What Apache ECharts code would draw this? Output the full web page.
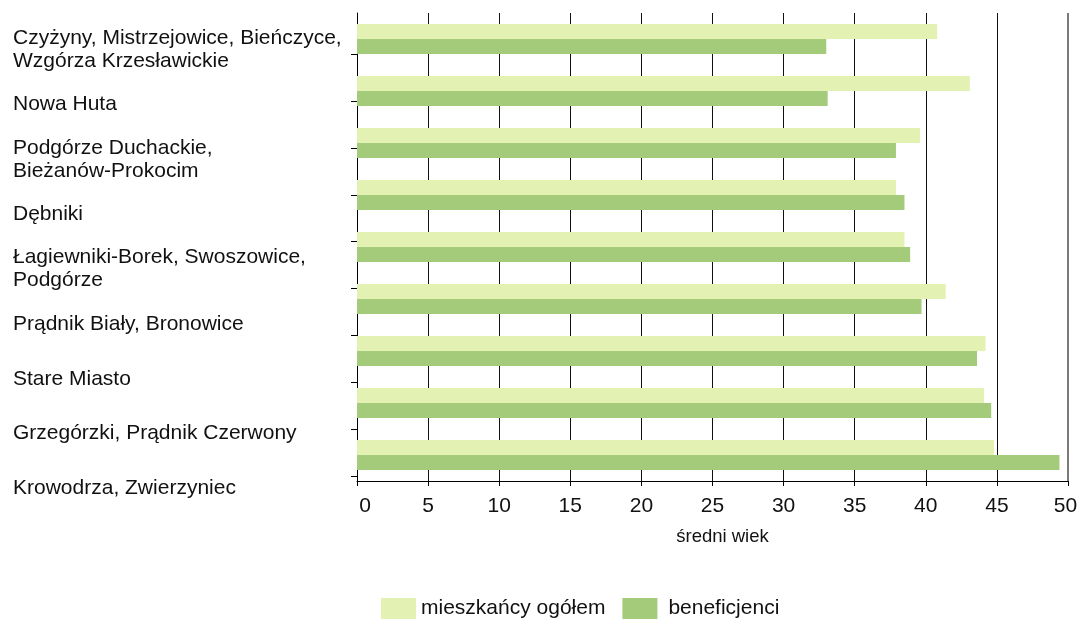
<!DOCTYPE html>
<html>
<head>
<meta charset="utf-8">
<script src="https://cdn.jsdelivr.net/npm/echarts@6/dist/echarts.min.js"></script>
<style>html,body{margin:0;padding:0;background:#fff;}#c{width:1077px;height:621px;}</style>
</head>
<body>
<div id="c"></div>
<script>
const categories = [
  "Czyżyny, Mistrzejowice, Bieńczyce,\nWzgórza Krzesławickie",
  "Nowa Huta",
  "Podgórze Duchackie,\nBieżanów-Prokocim",
  "Dębniki",
  "Łagiewniki-Borek, Swoszowice,\nPodgórze",
  "Prądnik Biały, Bronowice",
  "Stare Miasto",
  "Grzegórzki, Prądnik Czerwony",
  "Krowodrza, Zwierzyniec"
];
const seriesNames = ["mieszkańcy ogółem", "beneficjenci"];
const mieszkancy = [40.8, 43.1, 39.6, 37.9, 38.5, 41.4, 44.2, 44.1, 44.8];
const beneficjenci = [33.0, 33.1, 37.9, 38.5, 38.9, 39.7, 43.6, 44.6, 49.4];
const xTicks = { min: 0, max: 50, interval: 5 };
const axisName = "średni wiek";

const FONT = "Liberation Sans, Arial, sans-serif";
const chart = echarts.init(document.getElementById('c'), null, { renderer: 'canvas' });
chart.setOption({
  animation: false,
  backgroundColor: '#fff',
  textStyle: { fontFamily: FONT },
  grid: [
    { left: 357, right: 9, top: 13, bottom: 140, outerBoundsMode: 'none', containLabel: false },
    { left: 357, right: 9, top: 22, bottom: 105, outerBoundsMode: 'none', containLabel: false },
    { left: 357, right: 9, top: 54.3, bottom: 145, outerBoundsMode: 'none', containLabel: false }
  ],
  legend: {
    left: 381, top: 598, padding: 0,
    icon: 'rect',
    itemWidth: 35, itemHeight: 21, itemGap: 17,
    textStyle: { fontFamily: FONT, fontSize: 21, color: '#111' },
    data: [
      { name: seriesNames[0] },
      { name: seriesNames[1], textStyle: { padding: [0, 0, 0, 6] } }
    ]
  },
  xAxis: [
    {
      gridIndex: 0, type: 'value', min: xTicks.min, max: xTicks.max, interval: xTicks.interval,
      name: axisName, nameLocation: 'middle', nameGap: 46,
      nameTextStyle: { fontFamily: FONT, fontSize: 18.5, color: '#111', padding: [0, 0, 0, 20] },
      axisLine: { show: true, lineStyle: { color: '#000', width: 1 } },
      axisTick: { show: true, length: 5, lineStyle: { color: '#000' } },
      axisLabel: {
        fontFamily: FONT, fontSize: 21, color: '#111', margin: 15,
        formatter: function (v) {
          if (v === xTicks.min) return '{first|' + v + '}';
          if (v === xTicks.max) return '{last|' + v + '}';
          return String(v);
        },
        rich: {
          first: { fontFamily: FONT, fontSize: 21, color: '#111', padding: [0, 0, 0, 16] },
          last: { fontFamily: FONT, fontSize: 21, color: '#111', padding: [0, 5, 0, 0] }
        }
      },
      splitLine: { show: true, showMaxLine: false, lineStyle: { color: '#111', width: 1 } }
    },
    { gridIndex: 1, type: 'value', show: false, min: 0, max: 50 },
    { gridIndex: 2, type: 'value', show: false, min: 0, max: 50 }
  ],
  yAxis: [
    {
      gridIndex: 0, type: 'category', data: categories, inverse: true,
      axisLine: { show: true, lineStyle: { color: '#000', width: 1 } },
      axisTick: { show: false },
      axisLabel: { show: false },
      splitLine: { show: false }
    },
    {
      gridIndex: 1, type: 'category', data: categories, inverse: true,
      axisLine: { show: false }, axisTick: { show: false },
      axisLabel: {
        show: true, align: 'left', margin: 344, fontFamily: FONT, fontSize: 21,
        lineHeight: 23, color: '#111'
      }
    },
    {
      gridIndex: 2, type: 'category', data: categories, inverse: true, boundaryGap: true,
      axisLine: { show: false },
      axisTick: { show: true, length: 6, lineStyle: { color: '#000' } },
      axisLabel: { show: false }
    }
  ],
  series: [
    {
      name: seriesNames[0], type: 'bar', xAxisIndex: 0, yAxisIndex: 0,
      data: mieszkancy, barWidth: 15, barGap: '0%',
      itemStyle: { color: '#E3F2B3' },
      markLine: {
        silent: true, symbol: 'none', label: { show: false },
        lineStyle: { color: '#7a7a7a', width: 2, type: 'solid' },
        data: [{ xAxis: xTicks.max }]
      }
    },
    {
      name: seriesNames[1], type: 'bar', xAxisIndex: 0, yAxisIndex: 0,
      data: beneficjenci, barWidth: 15, barGap: '0%',
      itemStyle: { color: '#A3CB7A' }
    }
  ]
});
</script>
</body>
</html>
